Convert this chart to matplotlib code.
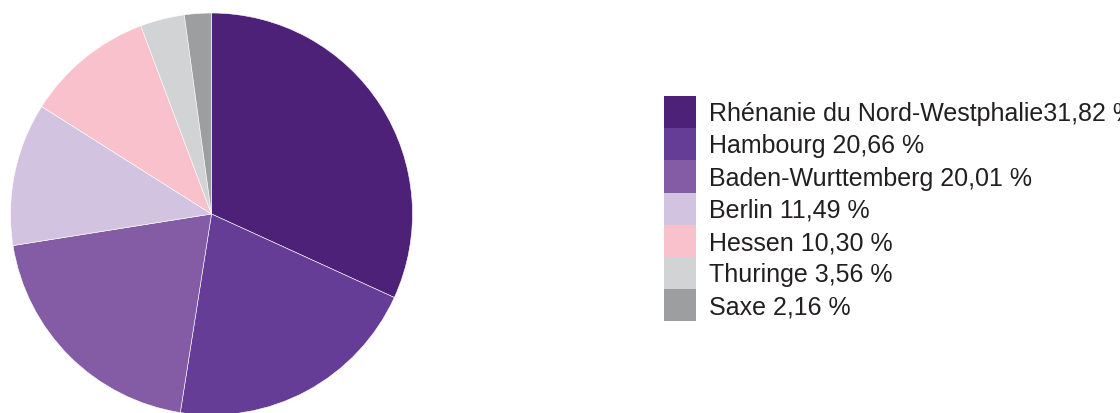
import matplotlib.pyplot as plt

regions = ["Rhénanie du Nord-Westphalie", "Hambourg", "Baden-Wurttemberg",
           "Berlin", "Hessen", "Thuringe", "Saxe"]
shares = [31.82, 20.66, 20.01, 11.49, 10.30, 3.56, 2.16]
colors = ["#4e2179", "#653d96", "#835ca5", "#d2c4e0", "#f8c1cc", "#d2d3d5", "#9d9ea0"]
# the first entry has no space before its value
gaps = ["", " ", " ", " ", " ", " ", " "]

labels = [f"{n}{g}{v:.2f} %".replace(".", ",") for n, g, v in zip(regions, gaps, shares)]

plt.rcParams['font.family'] = ['Liberation Sans', 'DejaVu Sans']

W, H = 1120, 414
fig = plt.figure(figsize=(W / 100, H / 100), dpi=100)

cx, cy, r = 211.5, 215, 201
ax = fig.add_axes([(cx - r) / W, (H - cy - r) / H, 2 * r / W, 2 * r / H])
wedges, _ = ax.pie(shares, colors=colors, startangle=90, counterclock=False,
                   radius=1, wedgeprops=dict(edgecolor="white", linewidth=0.4))
ax.set_xlim(-1, 1)
ax.set_ylim(-1, 1)

fs = 18
px = fs * 100 / 72
row = 32.2 * 72 / 100  # row height in points
hh = (row / fs - 0.245) / 0.65  # legend subtracts a descent from handleheight
leg = fig.legend(wedges, labels, loc="upper left",
                 bbox_to_anchor=(664 / W, 1 - 97 / H),
                 frameon=False, fontsize=fs, borderpad=0, borderaxespad=0,
                 labelspacing=0, handlelength=32 / px, handleheight=hh,
                 handletextpad=13 / px)
for t in leg.get_texts():
    t.set_color("#231f20")
for h in leg.legend_handles:
    h.set_edgecolor("none")

fig.savefig("out.png", dpi=100)
